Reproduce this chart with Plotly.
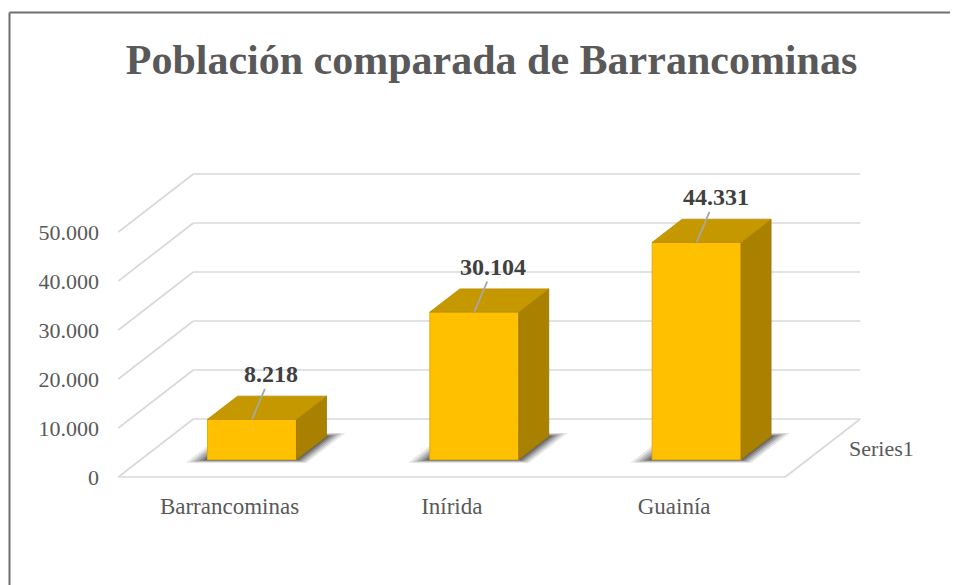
import plotly.graph_objects as go

# ---------------- data ----------------
categories = ["Barrancominas", "Inírida", "Guainía"]
values = [8218, 30104, 44331]
y_ticks = [0, 10000, 20000, 30000, 40000, 50000]
series_name = "Series1"
title_text = "Población comparada de Barrancominas"

# ---------------- geometry (pseudo-3D projection) ----------------
OFF = 8                   # page body margin: figure starts at (8, 8) in the window
W, H = 958 - OFF, 585 - OFF
ML, MR, MT, MB = 92, 40, 112, 60
PLOT_W = W - ML - MR
PLOT_H = H - MT - MB
PX_PER_C = 222.3          # px per category step
C0_PX = 229.5 - OFF       # px x of category 0 on the front plane (figure coords)
PX_PER_V = 0.0049         # px per unit of value
V0_PX = 477 - OFF         # px y of value 0 on the front plane (figure coords)
DEPTH_PX = (75, 58)       # full depth offset (right, up) in px

DXC = DEPTH_PX[0] / PX_PER_C
DYV = DEPTH_PX[1] / PX_PER_V

x_range = [(ML - C0_PX) / PX_PER_C, (ML + PLOT_W - C0_PX) / PX_PER_C]
y_range = [(V0_PX - (MT + PLOT_H)) / PX_PER_V, (V0_PX - MT) / PX_PER_V]


def P(c, v, d):
    return c + d * DXC, v + d * DYV


def px_to_paper(px, py):
    # px, py in window coordinates
    return (px - OFF - ML) / PLOT_W, (MT + PLOT_H - (py - OFF)) / PLOT_H


C_MIN, C_MAX = -0.5, len(categories) - 0.5
HALF_W = 0.2
D0, D1 = 0.3, 0.7

GRID = "#D9D9D9"
FRONT = "#FFC000"
TOP = "#C59800"
SIDE = "#A98000"
TXT = "#595959"
FONT = "Liberation Serif"

fig = go.Figure()

# ---- walls / floor gridlines (bottom subplot) ----
gx, gy = [], []
for v in y_ticks:
    for a, b in [((C_MIN, v, 1), (C_MAX, v, 1)), ((C_MIN, v, 0), (C_MIN, v, 1))]:
        pa, pb = P(*a), P(*b)
        gx += [pa[0], pb[0], None]
        gy += [pa[1], pb[1], None]
for a, b in [((C_MIN, 0, 0), (C_MAX, 0, 0)), ((C_MAX, 0, 0), (C_MAX, 0, 1))]:
    pa, pb = P(*a), P(*b)
    gx += [pa[0], pb[0], None]
    gy += [pa[1], pb[1], None]
fig.add_trace(go.Scatter(x=gx, y=gy, mode="lines", line=dict(color=GRID, width=1.7),
                         hoverinfo="skip", showlegend=False))

# ---- soft shadows on the floor (bottom subplot) ----
for f, op in [(1.0, 0.10), (0.8, 0.14), (0.6, 0.18), (0.4, 0.24), (0.2, 0.3)]:
    sx, sy = [], []
    for i, v in enumerate(values):
        cl, cr = i - HALF_W - 0.08 * f, i + HALF_W + 0.065 * f
        df, db = D0 - 0.055 * f, D1 + 0.06 * f
        pts = [P(cl, 0, df), P(cr, 0, df), P(cr, 0, db), P(cl, 0, db)]
        sx += [p[0] for p in pts] + [pts[0][0], None]
        sy += [p[1] for p in pts] + [pts[0][1], None]
    fig.add_trace(go.Scatter(x=sx, y=sy, mode="lines", fill="toself",
                             fillcolor=f"rgba(30,30,30,{op})", line=dict(width=0),
                             hoverinfo="skip", showlegend=False))

# ---- bar front faces (overlay subplot, drawn above the walls) ----
front_x = [P(i, 0, D0)[0] for i in range(len(values))]
base = [P(i, 0, D0)[1] for i in range(len(values))]
fig.add_trace(go.Bar(x=front_x, y=values, base=base, width=2 * HALF_W,
                     marker=dict(color=FRONT, line=dict(color="#E8AE00", width=1)),
                     name=series_name, hoverinfo="skip", showlegend=False,
                     xaxis="x2", yaxis="y2"))

# ---- bar side and top faces ----
sx, sy, tx, ty = [], [], [], []
for i, v in enumerate(values):
    side = [P(i + HALF_W, 0, D0), P(i + HALF_W, v, D0), P(i + HALF_W, v, D1), P(i + HALF_W, 0, D1)]
    top = [P(i - HALF_W, v, D0), P(i + HALF_W, v, D0), P(i + HALF_W, v, D1), P(i - HALF_W, v, D1)]
    sx += [p[0] for p in side] + [side[0][0], None]
    sy += [p[1] for p in side] + [side[0][1], None]
    tx += [p[0] for p in top] + [top[0][0], None]
    ty += [p[1] for p in top] + [top[0][1], None]
fig.add_trace(go.Scatter(x=sx, y=sy, mode="lines", fill="toself", fillcolor=SIDE,
                         line=dict(color="#9C7600", width=0.8), hoverinfo="skip",
                         showlegend=False, xaxis="x2", yaxis="y2"))
fig.add_trace(go.Scatter(x=tx, y=ty, mode="lines", fill="toself", fillcolor=TOP,
                         line=dict(color="#B88C00", width=0.8), hoverinfo="skip",
                         showlegend=False, xaxis="x2", yaxis="y2"))

# ---- data labels with leader lines ----
for i, v in enumerate(values):
    ax_, ay_ = P(i, v, D0)
    fig.add_annotation(x=ax_, y=ay_, xref="x", yref="y",
                       text=f"<b>{v:,}</b>".replace(",", "."),
                       showarrow=True, arrowhead=0, arrowwidth=1.8, arrowcolor="#A6A6A6",
                       ax=19, ay=-45, standoff=0,
                       font=dict(family=FONT, size=24, color="#404040"))

# ---- series (depth axis) label ----
sxp, syp = P(C_MAX, 0, 0.5)
fig.add_annotation(x=sxp, y=syp, xref="x", yref="y", text=series_name, showarrow=False,
                   xanchor="left", yanchor="middle", xshift=24,
                   font=dict(family=FONT, size=22, color=TXT))

# ---- frame ----
fx0, fy0 = px_to_paper(9.5, 12.5)
fx1, fy1 = px_to_paper(958 + 5, 585 + 5)
fig.add_shape(type="line", xref="paper", yref="paper", x0=fx0, y0=fy0, x1=fx1, y1=fy0,
              line=dict(color="#6F6F6F", width=2))
fig.add_shape(type="line", xref="paper", yref="paper", x0=fx0, y0=fy0, x1=fx0, y1=fy1,
              line=dict(color="#6F6F6F", width=2))

_, xpos = px_to_paper(0, 490)

axis_common = dict(showgrid=False, zeroline=False, showline=False)
fig.update_layout(
    width=W, height=H,
    margin=dict(l=ML, r=MR, t=MT, b=MB),
    paper_bgcolor="white", plot_bgcolor="rgba(0,0,0,0)",
    separators=",.",
    title=dict(text=f"<b>{title_text}</b>", x=(491.5 - OFF) / W, xref="container",
               xanchor="center", y=1 - (59 - OFF) / H, yref="container", yanchor="middle",
               font=dict(family=FONT, size=42, color=TXT)),
    xaxis=dict(range=x_range, tickvals=list(range(len(categories))), ticktext=categories,
               anchor="free", position=xpos, ticks="",
               tickfont=dict(family=FONT, size=23, color=TXT), **axis_common),
    yaxis=dict(range=y_range, tickvals=y_ticks, tickformat=",d", ticks="",
               tickfont=dict(family=FONT, size=22, color=TXT), **axis_common),
    xaxis2=dict(range=x_range, overlaying="x", showticklabels=False, **axis_common),
    yaxis2=dict(range=y_range, overlaying="y", showticklabels=False, **axis_common),
    showlegend=False,
)

fig.write_html("out.html")
